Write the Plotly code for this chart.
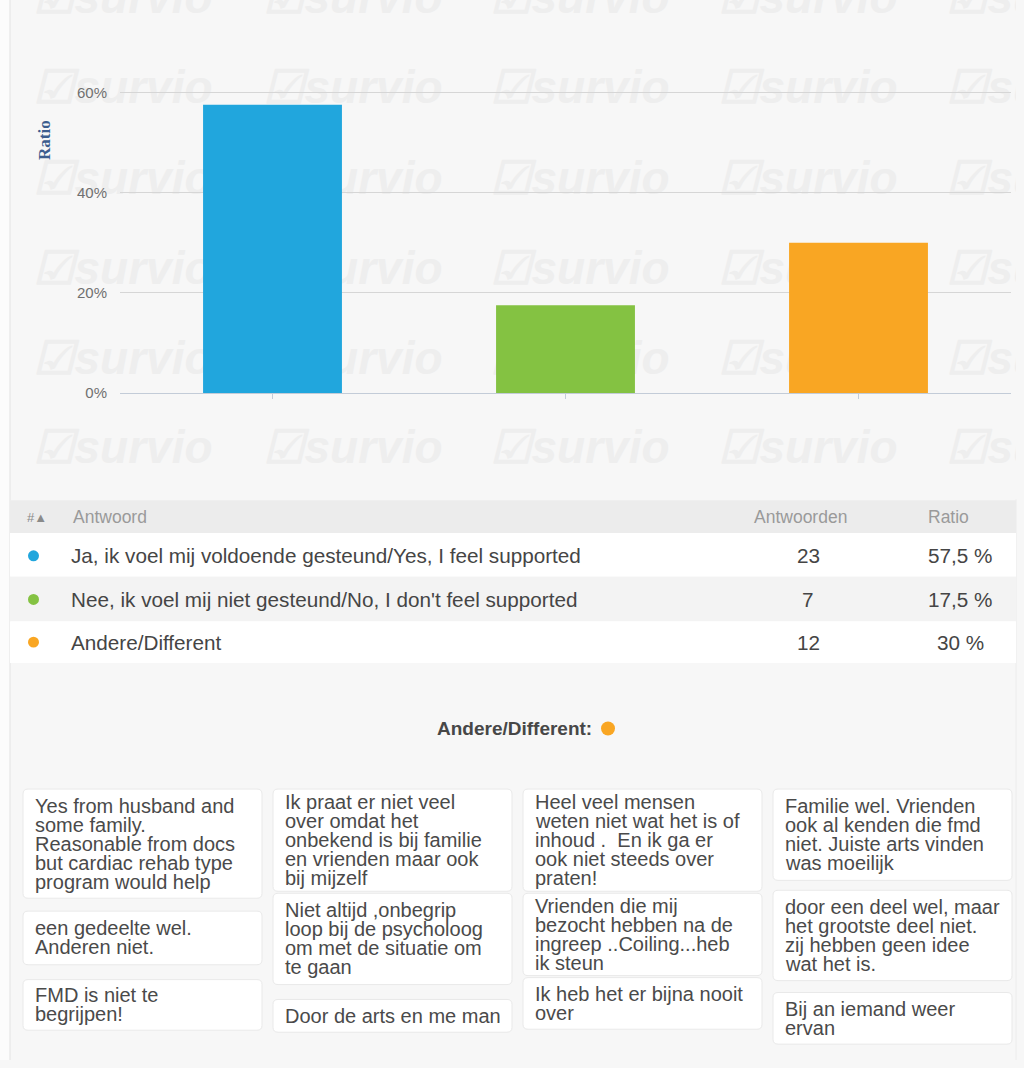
import plotly.graph_objects as go

# ---------------------------------------------------------------- data
answers = [
    "Ja, ik voel mij voldoende gesteund/Yes, I feel supported",
    "Nee, ik voel mij niet gesteund/No, I don't feel supported",
    "Andere/Different",
]
counts = [23, 7, 12]
ratios = [57.5, 17.5, 30.0]          # percent of respondents
colors = ["#21a6dd", "#84c242", "#f9a623"]

y_ticks = [0, 0.2, 0.4, 0.6]
y_tick_labels = ["0%", "20%", "40%", "60%"]
y_title = "Ratio"

header = ["#▲", "Antwoord", "Antwoorden", "Ratio"]
other_title = "Andere/Different:"

# free-text answers for "Andere/Different", one list per column, one list of lines per card
comments_col1 = [
    ["Yes from husband and", "some family.", "Reasonable from docs",
     "but cardiac rehab type", "program would help"],
    ["een gedeelte wel.", "Anderen niet."],
    ["FMD is niet te", "begrijpen!"],
]
comments_col2 = [
    ["Ik praat er niet veel", "over omdat het", "onbekend is bij familie",
     "en vrienden maar ook", "bij mijzelf"],
    ["Niet altijd ,onbegrip", "loop bij de psycholoog", "om met de situatie om", "te gaan"],
    ["Door de arts en me man"],
]
comments_col3 = [
    ["Heel veel mensen", "weten niet wat het is of", "inhoud .  En ik ga er",
     "ook niet steeds over", "praten!"],
    ["Vrienden die mij", "bezocht hebben na de", "ingreep ..Coiling...heb", "ik steun"],
    ["Ik heb het er bijna nooit", "over"],
]
comments_col4 = [
    ["Familie wel. Vrienden", "ook al kenden die fmd", "niet. Juiste arts vinden", "was moeilijk"],
    ["door een deel wel, maar", "het grootste deel niet.", "zij hebben geen idee", "wat het is."],
    ["Bij an iemand weer", "ervan"],
]

# ---------------------------------------------------------------- page geometry (pixels)
W, H = 1024, 1068


def px(x):
    return x / W


def py(y):
    return 1 - y / H


FONT = "Liberation Sans, Arial, sans-serif"

fig = go.Figure()

# faint "survio" watermark pattern behind the chart (subplot x/y, drawn first)
wm_x, wm_y = [], []
for cy in [1, 92, 184, 275, 365, 455]:
    for cx in [123, 353, 580, 808, 1036]:
        wm_x.append(cx)
        wm_y.append(cy)
fig.add_trace(go.Scatter(
    x=wm_x, y=wm_y, mode="text", text=["☑survio"] * len(wm_x),
    textposition="middle center", cliponaxis=True, hoverinfo="skip", showlegend=False,
    textfont=dict(family=FONT, size=46, color="#eeeeee", weight="bold", style="italic"),
    xaxis="x", yaxis="y",
))

# the bar chart itself (subplot x2/y2, drawn on top of the watermark)
fig.add_trace(go.Bar(
    x=answers, y=[r / 100 for r in ratios], marker=dict(color=colors, line=dict(width=0)),
    width=0.474, xaxis="x2", yaxis="y2", showlegend=False, hoverinfo="skip",
))

fig.update_layout(
    width=W, height=H,
    margin=dict(l=0, r=0, t=0, b=0),
    paper_bgcolor="#f7f7f7",
    plot_bgcolor="rgba(0,0,0,0)",
    showlegend=False,
    xaxis=dict(domain=[px(10), px(1016)], range=[10, 1016], visible=False, fixedrange=True),
    yaxis=dict(domain=[py(500), 1], range=[500, 0], visible=False, fixedrange=True),
    xaxis2=dict(
        domain=[px(120), px(1011)], range=[-0.5205, 2.5205], anchor="y2",
        showticklabels=False, ticks="outside", ticklen=5, tickcolor="#c3ccd8",
        showline=True, linecolor="#c3ccd8", linewidth=1, showgrid=False, zeroline=False,
    ),
    yaxis2=dict(
        domain=[py(396), py(42.5)], range=[0, 0.7], anchor="x2",
        tickvals=y_ticks, ticktext=y_tick_labels, ticks="", ticklabelstandoff=12,
        tickfont=dict(family=FONT, size=15, color="#707070"),
        showgrid=True, gridcolor="#d6d6d6", gridwidth=1, zeroline=False, showline=False,
    ),
)

shapes = []
annotations = []

# page frame: white strip on the left and thin borders
shapes.append(dict(type="rect", xref="paper", yref="paper", x0=0, x1=px(10), y0=0, y1=1,
                   fillcolor="#fcfcfc", line=dict(width=0), layer="below"))
shapes.append(dict(type="line", xref="paper", yref="paper", x0=px(10), x1=px(10), y0=0, y1=1,
                   line=dict(color="#e3e3e3", width=1), layer="below"))
shapes.append(dict(type="line", xref="paper", yref="paper", x0=px(1016), x1=px(1016), y0=0, y1=py(503),
                   line=dict(color="#ececec", width=1), layer="below"))

# y axis title
annotations.append(dict(xref="paper", yref="paper", x=px(45), y=py(141), text=f"<b>{y_title}</b>",
                        textangle=-90, showarrow=False, xanchor="center", yanchor="middle",
                        font=dict(family="Liberation Serif, Times New Roman, serif", size=17, color="#3c5d8e")))

# ---------------------------------------------------------------- results table
shapes.append(dict(type="rect", xref="paper", yref="paper", x0=px(10), x1=px(1016), y0=py(537), y1=py(504),
                   fillcolor="#ececec", line=dict(width=0), layer="below"))
row_bands = [(537, 581, "#ffffff"), (581, 626, "#f3f3f3"), (626, 668, "#ffffff")]
row_centers = [560, 604, 647]
for (ya, yb, fill) in row_bands:
    shapes.append(dict(type="rect", xref="paper", yref="paper", x0=px(10), x1=px(1016), y0=py(yb), y1=py(ya),
                       fillcolor=fill, line=dict(width=0), layer="below"))

header_font = dict(family=FONT, size=17.5, color="#9a9a9a")
annotations.append(dict(xref="paper", yref="paper", x=px(25), y=py(521), text=header[0], showarrow=False,
                        xanchor="left", yanchor="middle", font=dict(family=FONT, size=13, color="#8a8a8a")))
annotations.append(dict(xref="paper", yref="paper", x=px(71), y=py(521), text=header[1], showarrow=False,
                        xanchor="left", yanchor="middle", font=header_font))
annotations.append(dict(xref="paper", yref="paper", x=px(800), y=py(521), text=header[2], showarrow=False,
                        xanchor="center", yanchor="middle", font=header_font))
annotations.append(dict(xref="paper", yref="paper", x=px(948), y=py(521), text=header[3], showarrow=False,
                        xanchor="center", yanchor="middle", font=header_font))

row_font = dict(family=FONT, size=20.7, color="#454545")
for label, n, r, c, yc in zip(answers, counts, ratios, colors, row_centers):
    shapes.append(dict(type="circle", xref="paper", yref="paper",
                       x0=px(28), x1=px(39), y0=py(yc + 5.5), y1=py(yc - 5.5),
                       fillcolor=c, line=dict(width=0)))
    annotations.append(dict(xref="paper", yref="paper", x=px(69), y=py(yc), text=label, showarrow=False,
                            xanchor="left", yanchor="middle", font=row_font))
    annotations.append(dict(xref="paper", yref="paper", x=px(808), y=py(yc), text=str(n), showarrow=False,
                            xanchor="center", yanchor="middle", font=row_font))
    pct = f"{r:g}".replace(".", ",") + " %"
    annotations.append(dict(xref="paper", yref="paper", x=px(960), y=py(yc), text=pct, showarrow=False,
                            xanchor="center", yanchor="middle", font=row_font))

# ---------------------------------------------------------------- "Andere/Different" answers
annotations.append(dict(xref="paper", yref="paper", x=px(594), y=py(734), text=f"<b>{other_title}</b>",
                        showarrow=False, xanchor="right", yanchor="middle",
                        font=dict(family=FONT, size=19, color="#474747")))
shapes.append(dict(type="circle", xref="paper", yref="paper",
                   x0=px(601), x1=px(615), y0=py(741), y1=py(727),
                   fillcolor=colors[2], line=dict(width=0)))

card_cols = [comments_col1, comments_col2, comments_col3, comments_col4]
card_x0 = [23, 273, 523, 773]
card_w = 239
card_spans = [
    [(795, 905), (918, 972), (987, 1038)],
    [(795, 898), (900, 992), (1007, 1040)],
    [(795, 898), (900, 983), (985, 1037)],
    [(795, 887), (897, 988), (1000, 1052)],
]
LINE_H = 19.2
RAD = 5


def rounded_rect(x0, y0, x1, y1, r):
    X0, X1 = px(x0), px(x1)
    rx, ry = r / W, r / H
    Y0, Y1 = py(y1), py(y0)   # paper y: bottom, top
    return (f"M {X0 + rx},{Y0} L {X1 - rx},{Y0} Q {X1},{Y0} {X1},{Y0 + ry} "
            f"L {X1},{Y1 - ry} Q {X1},{Y1} {X1 - rx},{Y1} L {X0 + rx},{Y1} "
            f"Q {X0},{Y1} {X0},{Y1 - ry} L {X0},{Y0 + ry} Q {X0},{Y0} {X0 + rx},{Y0} Z")


card_font = dict(family=FONT, size=20, color="#4a4a4a")
for cards, x0, spans in zip(card_cols, card_x0, card_spans):
    for lines, (ya, yb) in zip(cards, spans):
        shapes.append(dict(type="path", xref="paper", yref="paper",
                           path=rounded_rect(x0, ya, x0 + card_w, yb, RAD),
                           fillcolor="#ffffff", line=dict(color="#e9e9e9", width=1), layer="below"))
        mid = (ya + yb) / 2
        first = mid - LINE_H * (len(lines) - 1) / 2
        for i, line in enumerate(lines):
            annotations.append(dict(xref="paper", yref="paper", x=px(x0 + 10), y=py(first + i * LINE_H),
                                    text=line, showarrow=False, xanchor="left", yanchor="middle",
                                    font=card_font))

fig.update_layout(shapes=shapes, annotations=annotations)

fig.write_html("out.html", config={"displayModeBar": False})
